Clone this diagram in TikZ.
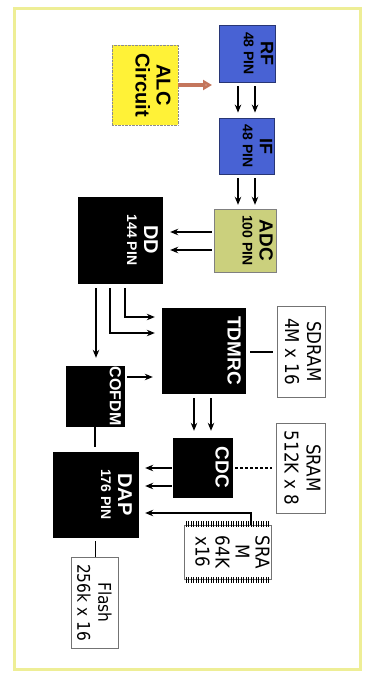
\documentclass[tikz,border=0pt]{standalone}
\usepackage{fontspec}
\setmainfont{Liberation Sans}
\newfontfamily\dvsans[FakeStretch=0.88]{DejaVu Sans}
\usetikzlibrary{arrows.meta}
\definecolor{rfblue}{RGB}{72,98,212}
\definecolor{adcgreen}{RGB}{203,208,125}
\definecolor{alcyellow}{RGB}{255,242,55}
\definecolor{alcbrown}{RGB}{196,118,92}
\definecolor{framey}{RGB}{238,238,150}

\begin{document}
\begin{tikzpicture}[x=1pt, y=-1pt,
    every node/.style={inner sep=0pt},
    bluebox/.style={draw=rfblue!55!black, fill=rfblue, line width=0.8pt},
    darkbox/.style={draw=black, fill=black},
    membox/.style={draw=black!55, fill=white, line width=1pt},
    boxtext/.style={rotate=-90, anchor=north, align=center, font=\bfseries\fontsize{14}{17}\selectfont},
    memtext/.style={rotate=-90, align=center, font=\dvsans\fontsize{19}{22}\selectfont},
    arr/.style={-{Stealth[length=8pt,width=6.5pt]}, line width=1.2pt},
    link/.style={line width=1.2pt},
    alcarr/.style={-{Triangle[length=9pt,width=10pt,fill=alcbrown!75]}, draw=alcbrown, line width=3.5pt},
    pin/.style={line width=1pt},
]
\useasboundingbox (0,0) rectangle (364,676);
\draw[framey, line width=3pt] (14,9) rectangle (360,669);

% blocks
\node[draw=black!45, densely dotted, fill=alcyellow, minimum width=66pt, minimum height=80pt] (alc) at (145,85) {};
\node[bluebox, minimum width=56pt, minimum height=57pt] (rf) at (247,53.5) {};
\node[bluebox, minimum width=55pt, minimum height=56pt] (if) at (246.5,146) {};
\node[draw=black!50, fill=adcgreen, minimum width=62pt, minimum height=63pt] (adc) at (245,240.5) {};
\node[darkbox, minimum width=84pt, minimum height=86pt] (dd) at (120,240) {};
\node[darkbox, minimum width=83pt, minimum height=85pt] (tdmrc) at (203.5,350.5) {};
\node[membox, minimum width=48pt, minimum height=91pt] (sdram) at (301,351.5) {};
\node[darkbox, minimum width=58pt, minimum height=60pt] (cofdm) at (95,396) {};
\node[darkbox, minimum width=59pt, minimum height=59pt] (cdc) at (202.5,467.5) {};
\node[membox, minimum width=49pt, minimum height=90pt] (sramb) at (300.5,468) {};
\node[darkbox, minimum width=85pt, minimum height=85pt] (dap) at (95.5,494.5) {};
\node[membox, minimum width=87pt, minimum height=54pt] (srama) at (227.5,552) {};
\node[membox, minimum width=47pt, minimum height=91pt] (flash) at (94.5,602.5) {};

% chip pins
\foreach \px in {186,188.5,...,270}{
  \draw[pin] (\px,521) -- (\px,527);
  \draw[pin] (\px,577) -- (\px,583);
}

% labels
\node[rotate=-90, align=center, font=\bfseries\fontsize{20}{21}\selectfont] (alctxt) at (153,85) {ALC\\Circuit};
\node[boxtext] (rftxt) at ([xshift=-2pt]rf.east) {{\fontsize{18}{18}\selectfont RF}\\48 PIN};
\node[boxtext] (iftxt) at ([xshift=-2pt]if.east) {{\fontsize{18}{18}\selectfont IF}\\48 PIN};
\node[boxtext] (adctxt) at ([xshift=-3pt]adc.east) {{\fontsize{19}{18}\selectfont ADC}\\100 PIN};
\node[boxtext, white] (ddtxt) at ([xshift=-4pt]dd.east) {{\fontsize{20}{19}\selectfont DD}\\144 PIN};
\node[boxtext, white, font=\bfseries\fontsize{19}{20}\selectfont] (tdmrctxt) at ([xshift=-4pt]tdmrc.east) {TDMRC};
\node[boxtext, white, font=\bfseries\fontsize{16}{18}\selectfont] (cofdmtxt) at ([xshift=-3pt]cofdm.east) {COFDM};
\node[boxtext, white, font=\bfseries\fontsize{19}{20}\selectfont] (cdctxt) at ([xshift=-3pt]cdc.east) {CDC};
\node[boxtext, white] (daptxt) at ([xshift=-6pt]dap.east) {{\fontsize{20}{19}\selectfont DAP}\\176 PIN};
\node[memtext] (sdramtxt) at ([xshift=2pt]sdram) {SDRAM\\4M x 16};
\node[memtext] (srambtxt) at ([xshift=2pt]sramb) {SRAM\\512K x 8};
\node[memtext, font=\dvsans\fontsize{19}{20}\selectfont] (sramatxt) at ([xshift=5pt]srama) {SRA\\M\\64K\\x16};
\node[memtext, font=\dvsans\fontsize{17.5}{21}\selectfont] (flashtxt) at (flash) {Flash\\256k x 16};

% connections
\coordinate (rfin) at (212,85);
\draw[alcarr] (alc.east |- rfin) -- (rfin);

\draw[arr, shorten <=4pt, shorten >=5pt] (238,0 |- rf.south) -- (238,0 |- if.north);
\draw[arr, shorten <=4pt, shorten >=5pt] (255,0 |- rf.south) -- (255,0 |- if.north);
\draw[arr, shorten <=4pt, shorten >=4pt] (238,0 |- if.south) -- (238,0 |- adc.north);
\draw[arr, shorten <=4pt, shorten >=4pt] (255,0 |- if.south) -- (255,0 |- adc.north);

\draw[arr, shorten <=2pt, shorten >=8pt] (adc.west |- 0,232) -- (dd.east |- 0,232);
\draw[arr, shorten <=2pt, shorten >=8pt] (adc.west |- 0,250) -- (dd.east |- 0,250);

\draw[arr, shorten <=5pt, shorten >=7pt] (125,0 |- dd.south) |- (tdmrc.west |- 0,317);
\draw[arr, shorten <=5pt, shorten >=7pt] (110,0 |- dd.south) |- (tdmrc.west |- 0,333);
\draw[arr, shorten <=5pt, shorten >=8pt] (96,0 |- dd.south) -- (96,0 |- cofdm.north);

\draw[arr, shorten <=3pt, shorten >=9pt] (cofdm.east |- 0,377) -- (tdmrc.west |- 0,377);
\draw[link, shorten <=5pt, shorten >=4pt] (tdmrc.east |- 0,352) -- (sdram.west |- 0,352);

\draw[arr, shorten <=5pt, shorten >=7pt] (194,0 |- tdmrc.south) -- (194,0 |- cdc.north);
\draw[arr, shorten <=5pt, shorten >=7pt] (211,0 |- tdmrc.south) -- (211,0 |- cdc.north);

\draw[link, densely dashed, shorten <=3pt, shorten >=4pt] (cdc.east |- 0,468) -- (sramb.west |- 0,468);
\draw[arr, shorten <=1pt, shorten >=7pt] (cdc.west |- 0,468) -- (dap.east |- 0,468);
\draw[arr, shorten <=1pt, shorten >=7pt] (cdc.west |- 0,486) -- (dap.east |- 0,486);

\draw[link, shorten >=5pt] (cofdm.south) -- (cofdm.south |- dap.north);
\draw[arr, shorten >=7pt] (251,0 |- srama.north) |- (dap.east |- 0,513);
\draw[link, shorten <=4pt] (dap.south) -- (dap.south |- flash.north);
\end{tikzpicture}
\end{document}
